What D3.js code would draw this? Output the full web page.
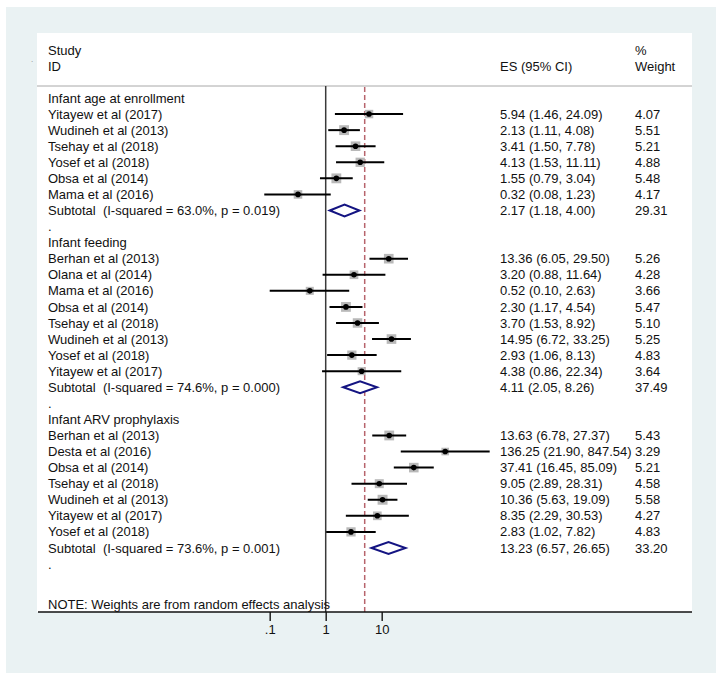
<!DOCTYPE html>
<html><head><meta charset="utf-8">
<script src="https://cdn.jsdelivr.net/npm/d3@7"></script>
<style>
body{margin:0;background:#fff}
svg text{font-family:"Liberation Sans",Arial,sans-serif;font-size:13px;fill:#111;white-space:pre}
</style>
</head><body><svg id="c" width="726" height="686"></svg>
<script>
// ---- data ----
const groupNames = ["Infant age at enrollment", "Infant feeding", "Infant ARV prophylaxis"];

const studiesAge = ["Yitayew et al (2017)", "Wudineh et al (2013)", "Tsehay et al (2018)", "Yosef et al (2018)", "Obsa et al (2014)", "Mama et al (2016)"];
const esAge  = [5.94, 2.13, 3.41, 4.13, 1.55, 0.32];
const loAge  = [1.46, 1.11, 1.50, 1.53, 0.79, 0.08];
const hiAge  = [24.09, 4.08, 7.78, 11.11, 3.04, 1.23];
const wAge   = [4.07, 5.51, 5.21, 4.88, 5.48, 4.17];

const studiesFeed = ["Berhan et al (2013)", "Olana et al (2014)", "Mama et al (2016)", "Obsa et al (2014)", "Tsehay et al (2018)", "Wudineh et al (2013)", "Yosef et al (2018)", "Yitayew et al (2017)"];
const esFeed = [13.36, 3.20, 0.52, 2.30, 3.70, 14.95, 2.93, 4.38];
const loFeed = [6.05, 0.88, 0.10, 1.17, 1.53, 6.72, 1.06, 0.86];
const hiFeed = [29.50, 11.64, 2.63, 4.54, 8.92, 33.25, 8.13, 22.34];
const wFeed  = [5.26, 4.28, 3.66, 5.47, 5.10, 5.25, 4.83, 3.64];

const studiesArv = ["Berhan et al (2013)", "Desta et al (2016)", "Obsa et al (2014)", "Tsehay et al (2018)", "Wudineh et al (2013)", "Yitayew et al (2017)", "Yosef et al (2018)"];
const esArv = [13.63, 136.25, 37.41, 9.05, 10.36, 8.35, 2.83];
const loArv = [6.78, 21.90, 16.45, 2.89, 5.63, 2.29, 1.02];
const hiArv = [27.37, 847.54, 85.09, 28.31, 19.09, 30.53, 7.82];
const wArv  = [5.43, 3.29, 5.21, 4.58, 5.58, 4.27, 4.83];

const subLabels = ["Subtotal  (I-squared = 63.0%, p = 0.019)", "Subtotal  (I-squared = 74.6%, p = 0.000)", "Subtotal  (I-squared = 73.6%, p = 0.001)"];
const subEs = [2.17, 4.11, 13.23];
const subLo = [1.18, 2.05, 6.57];
const subHi = [4.00, 8.26, 26.65];
const subW  = [29.31, 37.49, 33.20];

const overallEs = 4.97;
const tickValues = [0.1, 1, 10];
const tickLabels = [".1", "1", "10"];
const noteText = "NOTE: Weights are from random effects analysis";

// ---- build rows ----
const groupData = [
  {studies: studiesAge, es: esAge, lo: loAge, hi: hiAge, w: wAge},
  {studies: studiesFeed, es: esFeed, lo: loFeed, hi: hiFeed, w: wFeed},
  {studies: studiesArv, es: esArv, lo: loArv, hi: hiArv, w: wArv}
];
const rows = [];
groupData.forEach((g, gi) => {
  rows.push({type: "head", label: groupNames[gi]});
  g.studies.forEach((s, i) => rows.push({type: "study", label: s, es: g.es[i], lo: g.lo[i], hi: g.hi[i], w: g.w[i]}));
  rows.push({type: "sub", label: subLabels[gi], es: subEs[gi], lo: subLo[gi], hi: subHi[gi], w: subW[gi]});
  rows.push({type: "dot", label: "."});
});
rows.forEach((r, i) => r.i = i);

const f2 = d3.format(".2f");
const svg = d3.select("#c");

// backgrounds
svg.append("rect").attr("x", 6).attr("y", 7).attr("width", 710).attr("height", 666).attr("fill", "#eaf2f3");
const panel = {x0: 37, y0: 33, x1: 692, y1: 612};
svg.append("rect").attr("x", panel.x0).attr("y", panel.y0).attr("width", panel.x1 - panel.x0).attr("height", panel.y1 - panel.y0).attr("fill", "#fff");

// scales
const x = d3.scaleLog().domain([0.1, 10]).range([269.7, 381.7]);
const y = d3.scaleLinear().domain([0, 29]).range([98, 98 + 29 * 16.07]);

const colLabel = 48, colEs = 500, colW = 635;

// header
svg.append("text").attr("x", 31).attr("y", 62).attr("font-size", 8).style("font-size", "8px").attr("fill", "#888").style("fill", "#888").text(".");
svg.append("text").attr("x", colLabel).attr("y", 55).text("Study");
svg.append("text").attr("x", colLabel).attr("y", 71).text("ID");
svg.append("text").attr("x", colEs).attr("y", 71).text("ES (95% CI)");
svg.append("text").attr("x", colW).attr("y", 55).text("%");
svg.append("text").attr("x", colW).attr("y", 71).text("Weight");
svg.append("line").attr("x1", panel.x0).attr("x2", panel.x1).attr("y1", 86).attr("y2", 86).attr("stroke", "#a8a8a8").attr("stroke-width", 1);

// reference lines
svg.append("line").attr("x1", x(1)).attr("x2", x(1)).attr("y1", 86).attr("y2", panel.y1).attr("stroke", "#3a3a3a").attr("stroke-width", 1.5);
svg.append("line").attr("x1", x(overallEs)).attr("x2", x(overallEs)).attr("y1", 87).attr("y2", panel.y1)
  .attr("stroke", "#b7646c").attr("stroke-width", 1.5).attr("stroke-dasharray", "5,3");

// study marks
const st = rows.filter(r => r.type === "study");
svg.append("g").selectAll("rect").data(st).join("rect")
  .attr("x", d => x(d.es) - 2.1 * Math.sqrt(d.w)).attr("y", d => y(d.i) - 2.1 * Math.sqrt(d.w))
  .attr("width", d => 4.2 * Math.sqrt(d.w)).attr("height", d => 4.2 * Math.sqrt(d.w))
  .attr("fill", "#b9b9b9");
svg.append("g").selectAll("line").data(st).join("line")
  .attr("x1", d => x(d.lo)).attr("x2", d => x(d.hi)).attr("y1", d => y(d.i)).attr("y2", d => y(d.i))
  .attr("stroke", "#000").attr("stroke-width", 2);
svg.append("g").selectAll("circle").data(st).join("circle")
  .attr("cx", d => x(d.es)).attr("cy", d => y(d.i)).attr("r", 2.8).attr("fill", "#000");

// subtotal diamonds
const sb = rows.filter(r => r.type === "sub");
svg.append("g").selectAll("path").data(sb).join("path")
  .attr("d", d => {
    const c = y(d.i);
    return `M${x(d.lo)},${c}L${x(d.es)},${c - 6}L${x(d.hi)},${c}L${x(d.es)},${c + 6}Z`;
  })
  .attr("fill", "#fff").attr("stroke", "#141482").attr("stroke-width", 2);

// row texts
const tg = svg.append("g");
tg.selectAll("text.lab").data(rows).join("text").attr("class", "lab")
  .attr("x", colLabel).attr("y", d => y(d.i) + 4.6).text(d => d.label);
const withVals = rows.filter(r => r.type === "study" || r.type === "sub");
tg.selectAll("text.es").data(withVals).join("text").attr("class", "es")
  .attr("x", colEs).attr("y", d => y(d.i) + 4.6).text(d => `${f2(d.es)} (${f2(d.lo)}, ${f2(d.hi)})`);
tg.selectAll("text.w").data(withVals).join("text").attr("class", "w")
  .attr("x", colW).attr("y", d => y(d.i) + 4.6).text(d => f2(d.w));

// note
svg.append("text").attr("x", colLabel).attr("y", y(31.5) + 4.6).text(noteText);

// axis
const axis = d3.axisBottom(x).tickValues(tickValues).tickFormat((d, i) => tickLabels[i]).tickSize(9).tickPadding(4);
const ag = svg.append("g").attr("transform", `translate(0,${panel.y1})`).call(axis);
ag.select(".domain").remove();
ag.selectAll(".tick line").attr("stroke", "#222").attr("stroke-width", 1.5);
ag.selectAll(".tick text").style("font-size", "13px").style("font-family", '"Liberation Sans",Arial,sans-serif').attr("fill", "#111");
svg.append("line").attr("x1", 38).attr("x2", panel.x1).attr("y1", panel.y1).attr("y2", panel.y1).attr("stroke", "#111").attr("stroke-width", 1.5);
</script>
</body></html>
